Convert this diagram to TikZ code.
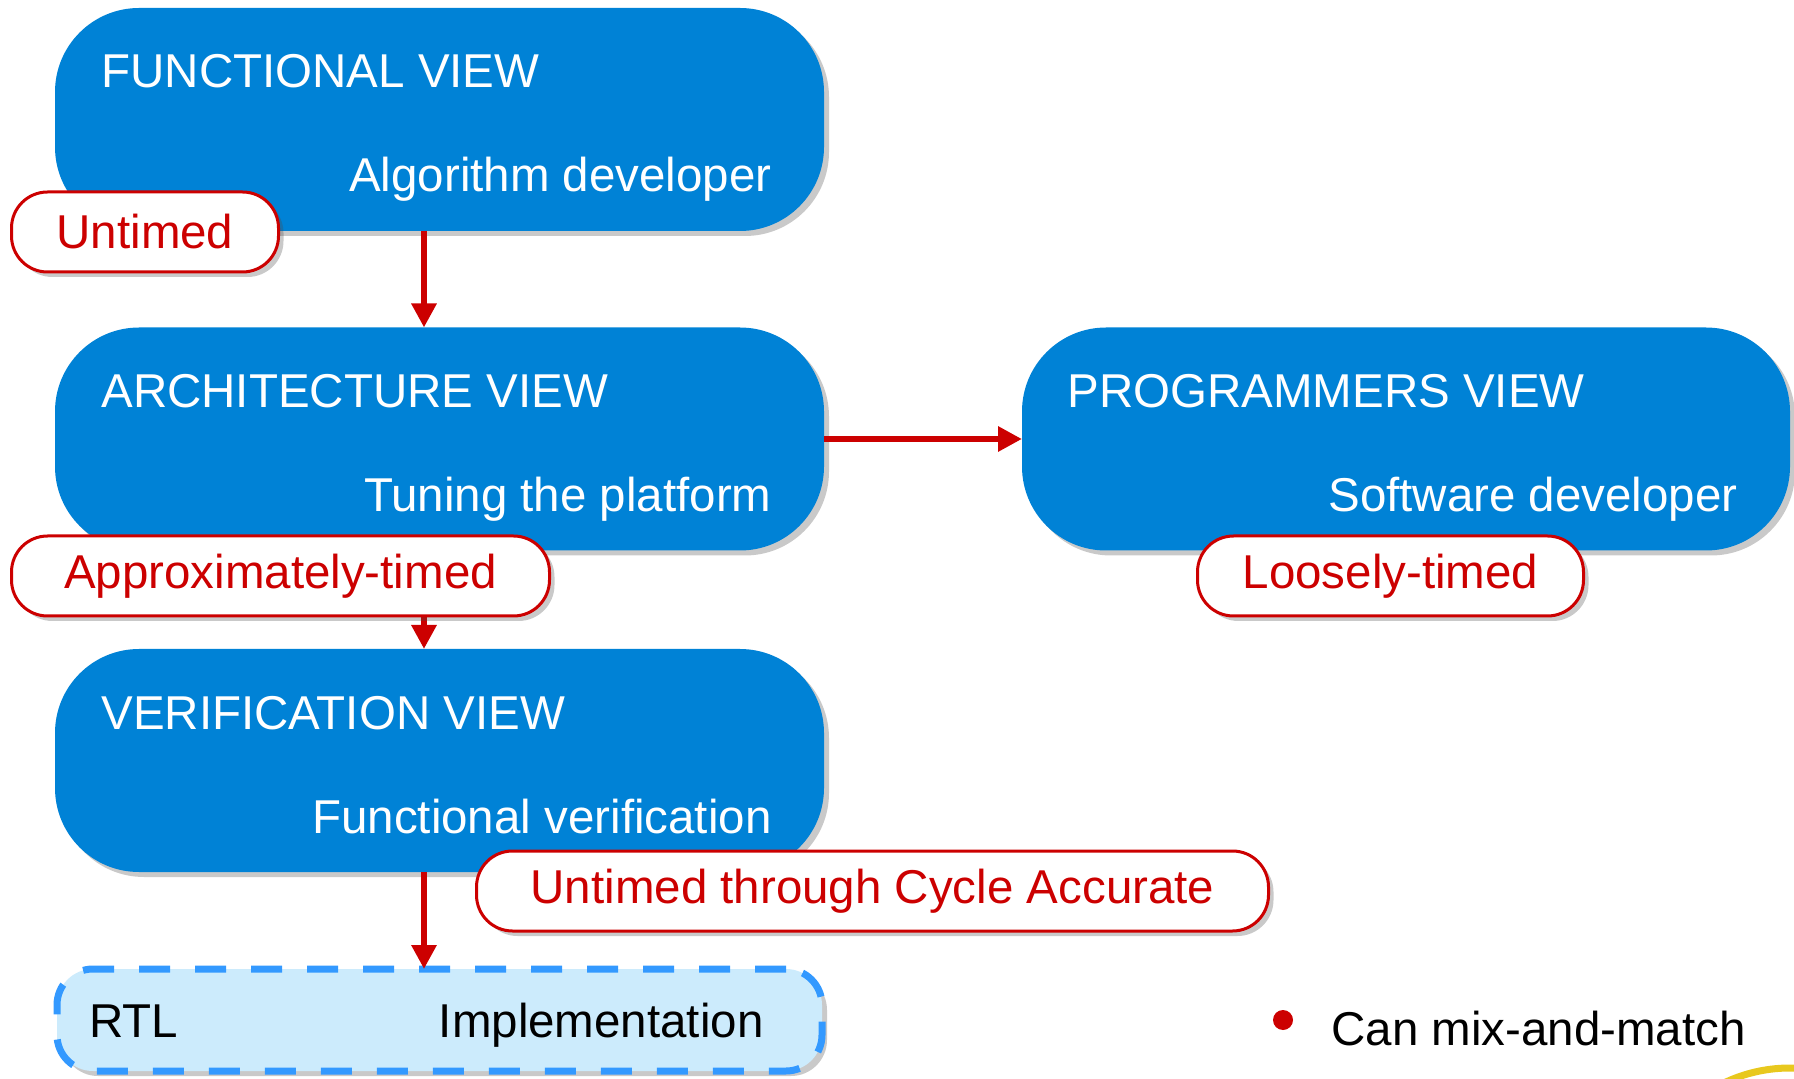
\documentclass[tikz,border=0pt]{standalone}
\usepackage{fontspec}
\setmainfont{Liberation Sans}
\usetikzlibrary{shadows,arrows.meta,calc}
\definecolor{boxblue}{RGB}{0,130,214}
\definecolor{tagred}{RGB}{204,0,0}
\definecolor{rtlfill}{RGB}{204,235,252}
\definecolor{rtldash}{RGB}{51,153,255}
\definecolor{logoyellow}{RGB}{232,200,30}
\begin{document}
\begin{tikzpicture}[x=0.5pt,y=-0.5pt,
  font=\fontsize{23.75}{28}\selectfont,
  softshadow/.style={drop shadow={shadow xshift=2.5pt, shadow yshift=-2.5pt, opacity=0.3, fill=black!70}},
  viewbox/.style={rectangle, rounded corners=42pt, fill=boxblue, minimum width=384.5pt,
    minimum height=111.5pt, inner sep=0pt, outer sep=0pt, softshadow},
  viewtitle/.style={anchor=base west, text=white, inner sep=0pt},
  viewsub/.style={anchor=base east, text=white, inner sep=0pt},
  tag/.style={rectangle, rounded corners=18pt, draw=tagred, line width=1.5pt, fill=white,
    text=tagred, inner sep=0pt, outer sep=0pt, minimum height=40pt, softshadow},
  flow/.style={draw=tagred, line width=3.2pt, -{Triangle[length=12pt,width=12pt]}},
  rtlbox/.style={rectangle, rounded corners=18pt, draw=rtldash, fill=rtlfill, line width=3.5pt,
    dash pattern=on 15.5pt off 12.5pt, minimum width=382.5pt, minimum height=51pt,
    inner sep=0pt, outer sep=0pt, softshadow},
  plain/.style={anchor=base west, text=black, inner sep=0pt}
]
\useasboundingbox (0,0) rectangle (1794,1079);

% view boxes
\node[viewbox] (fun)  at (439.5,119.5) {};
\node[viewbox] (arch) at (439.5,439) {};
\node[viewbox] (ver)  at (439.5,760.5) {};
\node[viewbox, minimum width=384pt] (prog) at (1406,439) {};
\node[rtlbox] (rtl) at (439.5,1020) {};

% texts in boxes
\node[viewtitle] (funT)  at (101,88)  {FUNCTIONAL VIEW};
\node[viewsub]   (funS)  at (772,192) {Algorithm developer};
\node[viewtitle] (archT) at (101,408) {ARCHITECTURE VIEW};
\node[viewsub]   (archS) at (772,512) {Tuning the platform};
\node[viewtitle] (verT)  at (101,729) {VERIFICATION VIEW};
\node[viewsub]   (verS)  at (772,833) {Functional verification};
\node[viewtitle] (progT) at (1067,408) {PROGRAMMERS VIEW};
\node[viewsub]   (progS) at (1738,512) {Software developer};
\node[plain] (rtlT) at (89,1037) {RTL};
\node[anchor=base east, inner sep=0pt] (rtlS) at (764,1037) {Implementation};

% connectors
\coordinate (ax) at (424,0);
\draw[flow] (fun.south -| ax) -- (arch.north -| ax);
\draw[flow] (arch.south -| ax) -- (ver.north -| ax);
\draw[flow] (ver.south -| ax) -- (rtl.north -| ax);
\draw[flow] (arch.east) -- (prog.west);

% timing tags
\node[tag, minimum width=133.5pt] (untimed) at (145,232) {\raisebox{-1pt}{Untimed}};
\node[tag, minimum width=269pt] (approx) at (280.5,576) {\raisebox{-1pt}{Approximately-timed}};
\node[tag, minimum width=193pt] (loose) at (1390.5,576) {\raisebox{-1pt}{Loosely-timed}};
\node[tag, minimum width=396pt] (utca) at (872.5,891) {\raisebox{-1pt}{Untimed through Cycle Accurate}};

% bullet
\node[circle, fill=tagred, minimum size=10pt, inner sep=0pt] (dot) at (1283,1020) {};
\node[plain] (mix) at (1331,1045) {Can mix-and-match};

% partial logo arc
\begin{scope}
\clip (0,0) rectangle (1794,1079);
\draw[logoyellow, line width=3.5pt] (1790,1221) circle[radius=153];
\end{scope}
\end{tikzpicture}
\end{document}
